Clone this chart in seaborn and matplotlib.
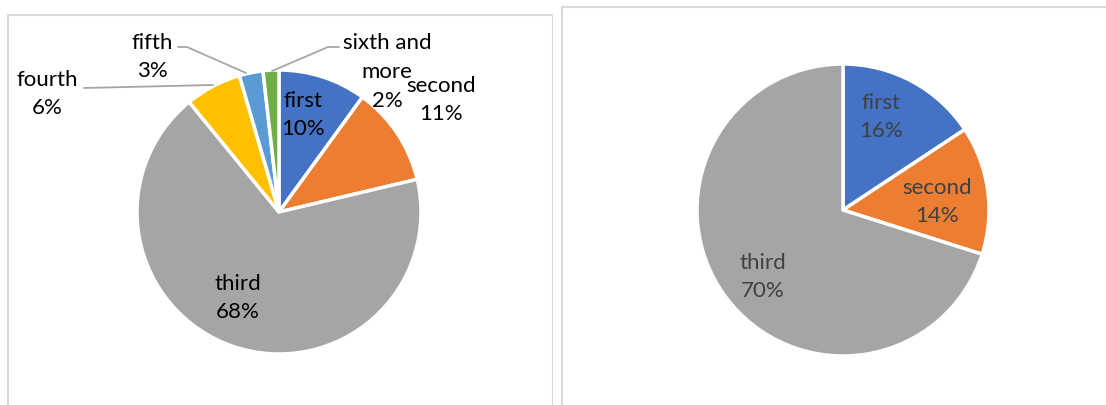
import matplotlib
matplotlib.use("Agg")
import matplotlib.pyplot as plt
import seaborn as sns
from matplotlib.patches import Rectangle

# ---- data ----
left_categories = ["first", "second", "third", "fourth", "fifth", "sixth and\nmore"]
left_values = [10.0, 11.3, 67.8, 6.4, 2.7, 1.8]
right_categories = ["first", "second", "third"]
right_values = [15.7, 14.2, 70.1]

colors = ["#4472C4", "#ED7D31", "#A5A5A5", "#FFC000", "#5B9BD5", "#70AD47"]

sns.set_theme(style="white")
plt.rcParams["font.family"] = ["Lato", "DejaVu Sans"]

W, H = 1106, 405
fig = plt.figure(figsize=(W / 100, H / 100), dpi=100)
fig.patch.set_facecolor("white")

def py(y):
    return H - y

FS = 16
LS = 1.56

# ---- left chart ----
axL = fig.add_axes([0, 0, 553 / W, 1])
cxL, cyL, rL = 279, 212, 142
axL.pie(left_values, colors=colors, startangle=90, counterclock=False,
        center=(cxL, py(cyL)), radius=rL,
        wedgeprops=dict(edgecolor="white", linewidth=2.5))
axL.set_xlim(0, 553)
axL.set_ylim(0, H)
axL.set_aspect("auto")
axL.axis("off")
axL.add_patch(Rectangle((8, -20), 545, py(15) + 20, fill=False,
                        edgecolor="#d9d9d9", linewidth=1.5))

def pct(v):
    return f"{round(v):d}%"

left_label_pos = [(303, 115), (441, 100), (238, 298), (47, 94), (152, 57), (387, 72)]
for cat, val, (x, y) in zip(left_categories, left_values, left_label_pos):
    axL.text(x, py(y), f"{cat}\n{pct(val)}", ha="center", va="center",
             fontsize=FS, color="black", linespacing=LS)

lc = "#a6a6a6"
# leader lines (fourth, fifth, sixth and more)
axL.plot([84, 213], [py(88), py(85)], color=lc, lw=1.3)
axL.plot([178, 187, 246], [py(47), py(47), py(73)], color=lc, lw=1.3)
axL.plot([339, 328, 272], [py(47), py(47), py(71)], color=lc, lw=1.3)

# ---- right chart ----
axR = fig.add_axes([553 / W, 0, 553 / W, 1])
cxR, cyR, rR = 843, 210, 146
axR.pie(right_values, colors=colors[:3], startangle=90, counterclock=False,
        center=(cxR, py(cyR)), radius=rR,
        wedgeprops=dict(edgecolor="white", linewidth=2.5))
axR.set_xlim(553, 1106)
axR.set_ylim(0, H)
axR.set_aspect("auto")
axR.axis("off")
axR.add_patch(Rectangle((562, -20), 600, py(7) + 20, fill=False,
                        edgecolor="#d9d9d9", linewidth=1.5))

right_label_pos = [(881, 117), (937, 202), (763, 277)]
for cat, val, (x, y) in zip(right_categories, right_values, right_label_pos):
    axR.text(x, py(y), f"{cat}\n{pct(val)}", ha="center", va="center",
             fontsize=FS, color="#404040", linespacing=LS)

fig.savefig("out.png", dpi=100, facecolor="white")
